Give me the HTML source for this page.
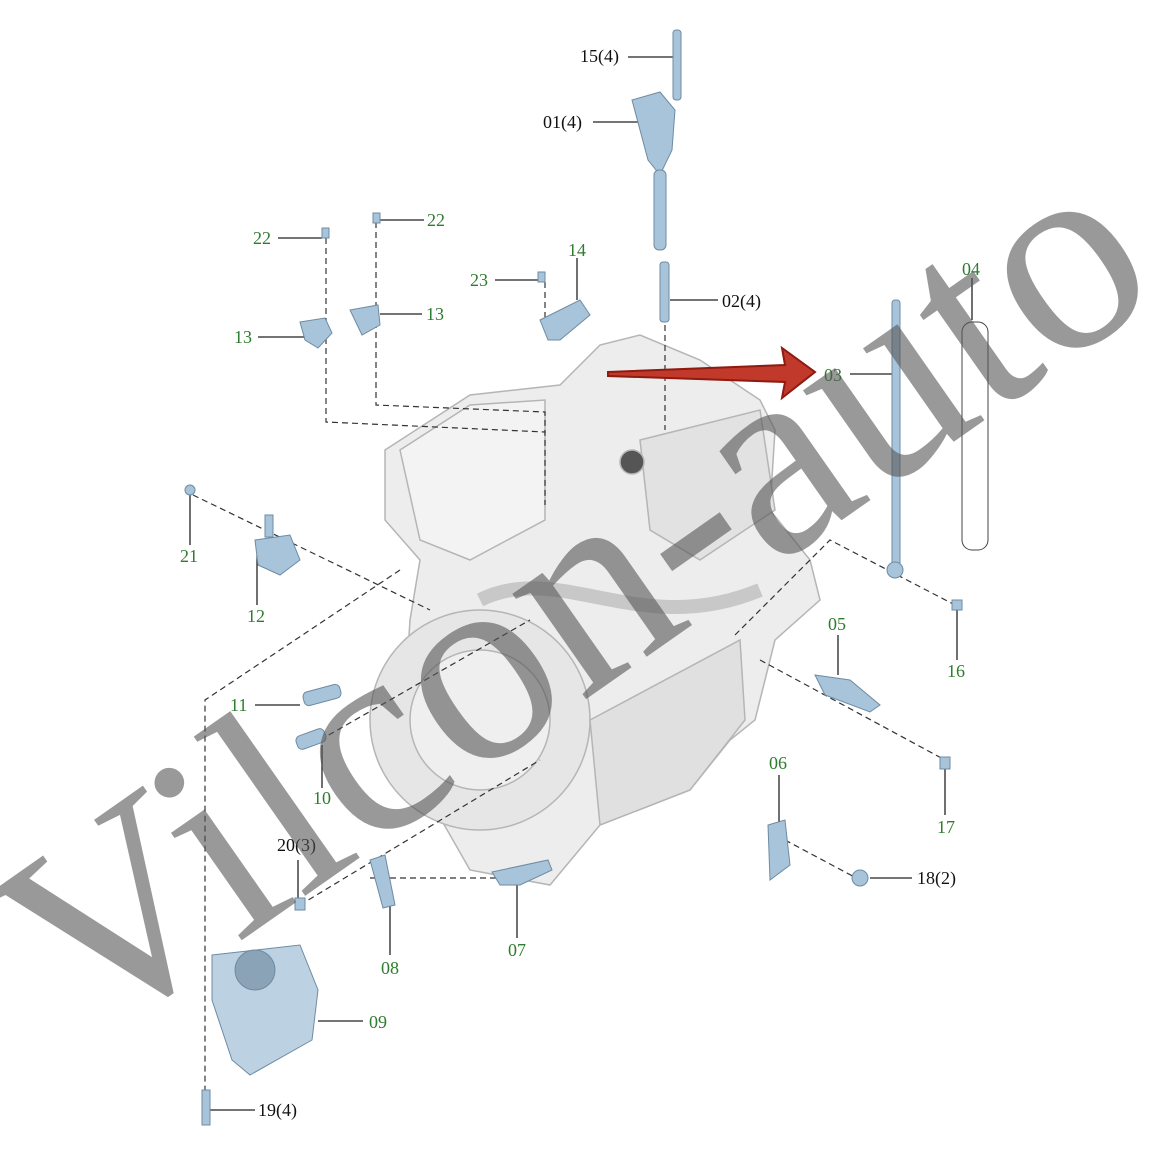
<!DOCTYPE html>
<html><head><meta charset="utf-8"><style>
html,body{margin:0;padding:0;background:#fff}
svg{display:block}
text.l{font-family:"Liberation Serif",serif;font-size:18px}
.g{fill:#2e7d2e}.k{fill:#111}
</style></head><body>
<svg width="1170" height="1170" viewBox="0 0 1170 1170" xmlns="http://www.w3.org/2000/svg">
<rect width="1170" height="1170" fill="#fff"/>
<g stroke="#b5b5b5" stroke-width="1.5">
<polygon points="385,450 470,395 560,385 600,345 640,335 700,360 760,400 775,430 770,510 810,560 820,600 775,640 755,720 730,740 690,790 600,825 550,885 470,870 430,800 405,700 410,620 420,560 385,520" fill="#ededed"/>
<circle cx="480" cy="720" r="110" fill="#e6e6e6"/>
<circle cx="480" cy="720" r="70" fill="#efefef"/>
<polygon points="400,450 470,405 545,400 545,520 470,560 420,540" fill="#f3f3f3"/>
<polygon points="640,440 760,410 775,510 700,560 650,530" fill="#e2e2e2"/>
<polygon points="590,720 740,640 745,720 690,790 600,825" fill="#e0e0e0"/>
<path d="M480,600 C560,560 640,640 760,590" fill="none" stroke="#c8c8c8" stroke-width="14"/>
<circle cx="632" cy="462" r="12" fill="#555"/>
</g>
<g fill="none" stroke="#333" stroke-width="1.2" stroke-dasharray="6,4">
<path d="M326,238 V422 L545,432"/>
<path d="M376,222 V405 L545,412 V505"/>
<path d="M545,282 V330"/>
<path d="M665,265 V430"/>
<path d="M193,495 L430,610"/>
<path d="M400,570 L205,700 V1120"/>
<path d="M300,905 L540,760"/>
<path d="M320,740 L530,620"/>
<path d="M370,878 H510"/>
<path d="M760,660 L945,760"/>
<path d="M735,635 L830,540 L955,605"/>
<path d="M785,840 L860,880"/>
</g>
<g stroke="#222" stroke-width="1.3">
<line x1="628" y1="57" x2="675" y2="57"/>
<line x1="593" y1="122" x2="640" y2="122"/>
<line x1="670" y1="300" x2="718" y2="300"/>
<line x1="278" y1="238" x2="322" y2="238"/>
<line x1="380" y1="220" x2="424" y2="220"/>
<line x1="495" y1="280" x2="540" y2="280"/>
<line x1="577" y1="258" x2="577" y2="300"/>
<line x1="258" y1="337" x2="305" y2="337"/>
<line x1="380" y1="314" x2="422" y2="314"/>
<line x1="850" y1="374" x2="895" y2="374"/>
<line x1="972" y1="278" x2="972" y2="320"/>
<line x1="190" y1="495" x2="190" y2="545"/>
<line x1="257" y1="555" x2="257" y2="605"/>
<line x1="838" y1="635" x2="838" y2="675"/>
<line x1="957" y1="610" x2="957" y2="660"/>
<line x1="255" y1="705" x2="300" y2="705"/>
<line x1="322" y1="745" x2="322" y2="788"/>
<line x1="945" y1="768" x2="945" y2="815"/>
<line x1="779" y1="775" x2="779" y2="825"/>
<line x1="870" y1="878" x2="912" y2="878"/>
<line x1="298" y1="860" x2="298" y2="900"/>
<line x1="390" y1="905" x2="390" y2="955"/>
<line x1="517" y1="885" x2="517" y2="938"/>
<line x1="318" y1="1021" x2="363" y2="1021"/>
<line x1="210" y1="1110" x2="255" y2="1110"/>
</g>
<g fill="#a8c4da" stroke="#6e8ba2" stroke-width="1">
<rect x="673" y="30" width="8" height="70" rx="3"/>
<polygon points="632,100 660,92 675,110 672,150 660,175 648,160"/>
<rect x="654" y="170" width="12" height="80" rx="5"/>
<rect x="660" y="262" width="9" height="60" rx="3"/>
<rect x="322" y="228" width="7" height="10"/>
<rect x="373" y="213" width="7" height="10"/>
<rect x="538" y="272" width="7" height="10"/>
<polygon points="300,322 325,318 332,333 318,348 305,340"/>
<polygon points="350,310 378,305 380,325 362,335"/>
<polygon points="540,320 580,300 590,315 560,340 548,340"/>
<rect x="892" y="300" width="8" height="270" rx="3"/>
<circle cx="895" cy="570" r="8"/>
<rect x="962" y="322" width="26" height="228" rx="10" fill="#fff" stroke="#444"/>
<circle cx="190" cy="490" r="5"/>
<polygon points="255,540 290,535 300,560 280,575 258,565"/>
<rect x="265" y="515" width="8" height="22"/>
<polygon points="815,675 850,680 880,705 870,712 825,695"/>
<rect x="952" y="600" width="10" height="10"/>
<rect x="303" y="688" width="38" height="14" rx="5" transform="rotate(-15 322 695)"/>
<rect x="296" y="732" width="30" height="14" rx="5" transform="rotate(-20 311 739)"/>
<rect x="940" y="757" width="10" height="12"/>
<polygon points="768,825 785,820 790,865 770,880"/>
<circle cx="860" cy="878" r="8"/>
<rect x="295" y="898" width="10" height="12"/>
<polygon points="370,860 385,855 395,905 383,908"/>
<polygon points="492,872 548,860 552,870 520,885 500,885"/>
<polygon points="212,955 300,945 318,990 312,1040 250,1075 232,1060 212,1000" fill="#bcd2e3"/>
<circle cx="255" cy="970" r="20" fill="#8aa3b6"/>
<rect x="202" y="1090" width="8" height="35"/>
</g>
<polygon points="608,372 785,365 782,348 815,372 782,398 785,382 608,376" fill="#c0392b" stroke="#8e1a10" stroke-width="2"/>
<text class="l k" x="580" y="62">15(4)</text>
<text class="l k" x="543" y="128">01(4)</text>
<text class="l k" x="722" y="307">02(4)</text>
<text class="l g" x="253" y="244">22</text>
<text class="l g" x="427" y="226">22</text>
<text class="l g" x="470" y="286">23</text>
<text class="l g" x="568" y="256">14</text>
<text class="l g" x="234" y="343">13</text>
<text class="l g" x="426" y="320">13</text>
<text class="l g" x="824" y="381">03</text>
<text class="l g" x="962" y="275">04</text>
<text class="l g" x="180" y="562">21</text>
<text class="l g" x="247" y="622">12</text>
<text class="l g" x="828" y="630">05</text>
<text class="l g" x="947" y="677">16</text>
<text class="l g" x="230" y="711">11</text>
<text class="l g" x="313" y="804">10</text>
<text class="l g" x="937" y="833">17</text>
<text class="l g" x="769" y="769">06</text>
<text class="l k" x="917" y="884">18(2)</text>
<text class="l k" x="277" y="851">20(3)</text>
<text class="l g" x="381" y="974">08</text>
<text class="l g" x="508" y="956">07</text>
<text class="l g" x="369" y="1028">09</text>
<text class="l k" x="258" y="1116">19(4)</text>
<text x="0" y="0" transform="translate(85,1050) rotate(-35)" font-family="Liberation Serif, serif" font-size="280" fill="#555" fill-opacity="0.6">Vilcon-auto</text>
</svg>
</body></html>
